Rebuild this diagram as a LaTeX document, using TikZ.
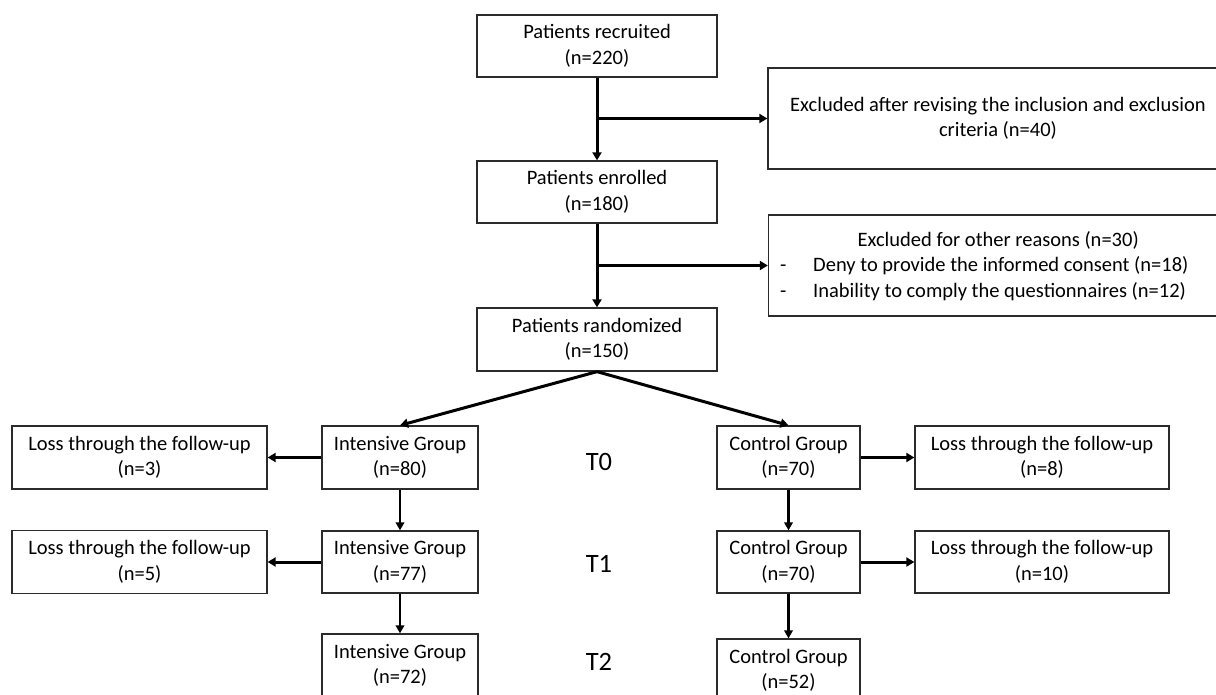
\documentclass[tikz,border=0pt]{standalone}
\usepackage{fontspec}
\setmainfont{Carlito}
\usetikzlibrary{arrows.meta}
\definecolor{boxc}{HTML}{2B2B2B}
\newcommand{\fs}{\fontsize{20.5}{25.5}\selectfont}
\newcommand{\fl}{\fontsize{26.5}{30}\selectfont}
\begin{document}
\begin{tikzpicture}[x=1pt,y=-1pt,
  box/.style={draw=boxc, line width=1.3pt, rectangle, inner sep=0pt, align=center, font=\fs},
  main/.style={box, minimum width=240pt, minimum height=62pt},
  grpI/.style={box, minimum width=156pt, minimum height=63pt},
  grpC/.style={box, minimum width=143pt, minimum height=63pt},
  loss/.style={box, minimum width=255pt, minimum height=63pt},
  excl/.style={box, minimum width=460pt, minimum height=101pt},
  conn/.style={line width=3pt, -{Triangle[length=8pt,width=9pt]}},
  connv/.style={line width=2.5pt, -{Triangle[length=8pt,width=8.5pt]}},
  lab/.style={inner sep=0pt, font=\fl}]
\useasboundingbox (0,0) rectangle (1216,695);
\clip (0,0) rectangle (1216,695);

% main column
\node[main] (rec) at (597,46) {Patients recruited\\(n=220)};
\node[main] (enr) at (597,192) {Patients enrolled\\(n=180)};
\node[main, minimum height=63pt] (ran) at (597,339.5) {Patients randomized\\(n=150)};

% exclusion boxes
\node[excl] (ex1) at (998,118.5) {Excluded after revising the inclusion and exclusion\\criteria (n=40)};
\node[excl] (ex2) at (998.5,265.5) {};
\node[inner sep=0pt, align=left, font=\fs, anchor=west] (ex2t) at (780,266)
  {\makebox[436pt][c]{Excluded for other reasons (n=30)}\\
   \makebox[33pt][l]{-}Deny to provide the informed consent (n=18)\\
   \makebox[33pt][l]{-}Inability to comply the questionnaires (n=12)};

% T0 row
\node[loss] (l0) at (139.5,457.5) {Loss through the follow-up\\(n=3)};
\node[grpI] (i0) at (400,457.5) {Intensive Group\\(n=80)};
\node[grpC] (c0) at (788.5,457.5) {Control Group\\(n=70)};
\node[loss, minimum width=254pt] (r0) at (1042,457.5) {Loss through the follow-up\\(n=8)};
\node[lab] (t0) at (599,462) {T0};

% T1 row
\node[loss] (l1) at (139.5,562) {Loss through the follow-up\\(n=5)};
\node[grpI, minimum height=62pt] (i1) at (400,562) {Intensive Group\\(n=77)};
\node[grpC, minimum height=62pt] (c1) at (788.5,562) {Control Group\\(n=70)};
\node[loss, minimum width=254pt, minimum height=62pt] (r1) at (1042,562) {Loss through the follow-up\\(n=10)};
\node[lab] (t1) at (599,564) {T1};

% T2 row
\node[grpI] (i2) at (400,665.5) {Intensive Group\\(n=72)};
\node[grpC] (c2) at (788.5,670.5) {Control Group\\(n=52)};
\node[lab] (t2) at (599,662) {T2};

% connectors
\coordinate (b1) at (rec.south |- ex1.west);
\coordinate (b2) at (enr.south |- ex2.west);
\draw[conn] (rec.south) -- (enr.north);
\draw[conn] (b1) -- (ex1.west);
\draw[conn] (enr.south) -- (ran.north);
\draw[conn] (b2) -- (ex2.west);
\draw[conn] (ran.south) -- (i0.north);
\draw[conn] (ran.south) -- (c0.north);
\draw[conn] (i0.west) -- (l0.east);
\draw[conn] (c0.east) -- (r0.west);
\draw[conn] (i1.west) -- (l1.east);
\draw[conn] (c1.east) -- (r1.west);
\draw[connv] (i0.south) -- (i1.north);
\draw[connv] (c0.south) -- (c1.north);
\draw[connv] (i1.south) -- (i2.north);
\draw[connv] (c1.south) -- (c2.north);
\end{tikzpicture}
\end{document}
